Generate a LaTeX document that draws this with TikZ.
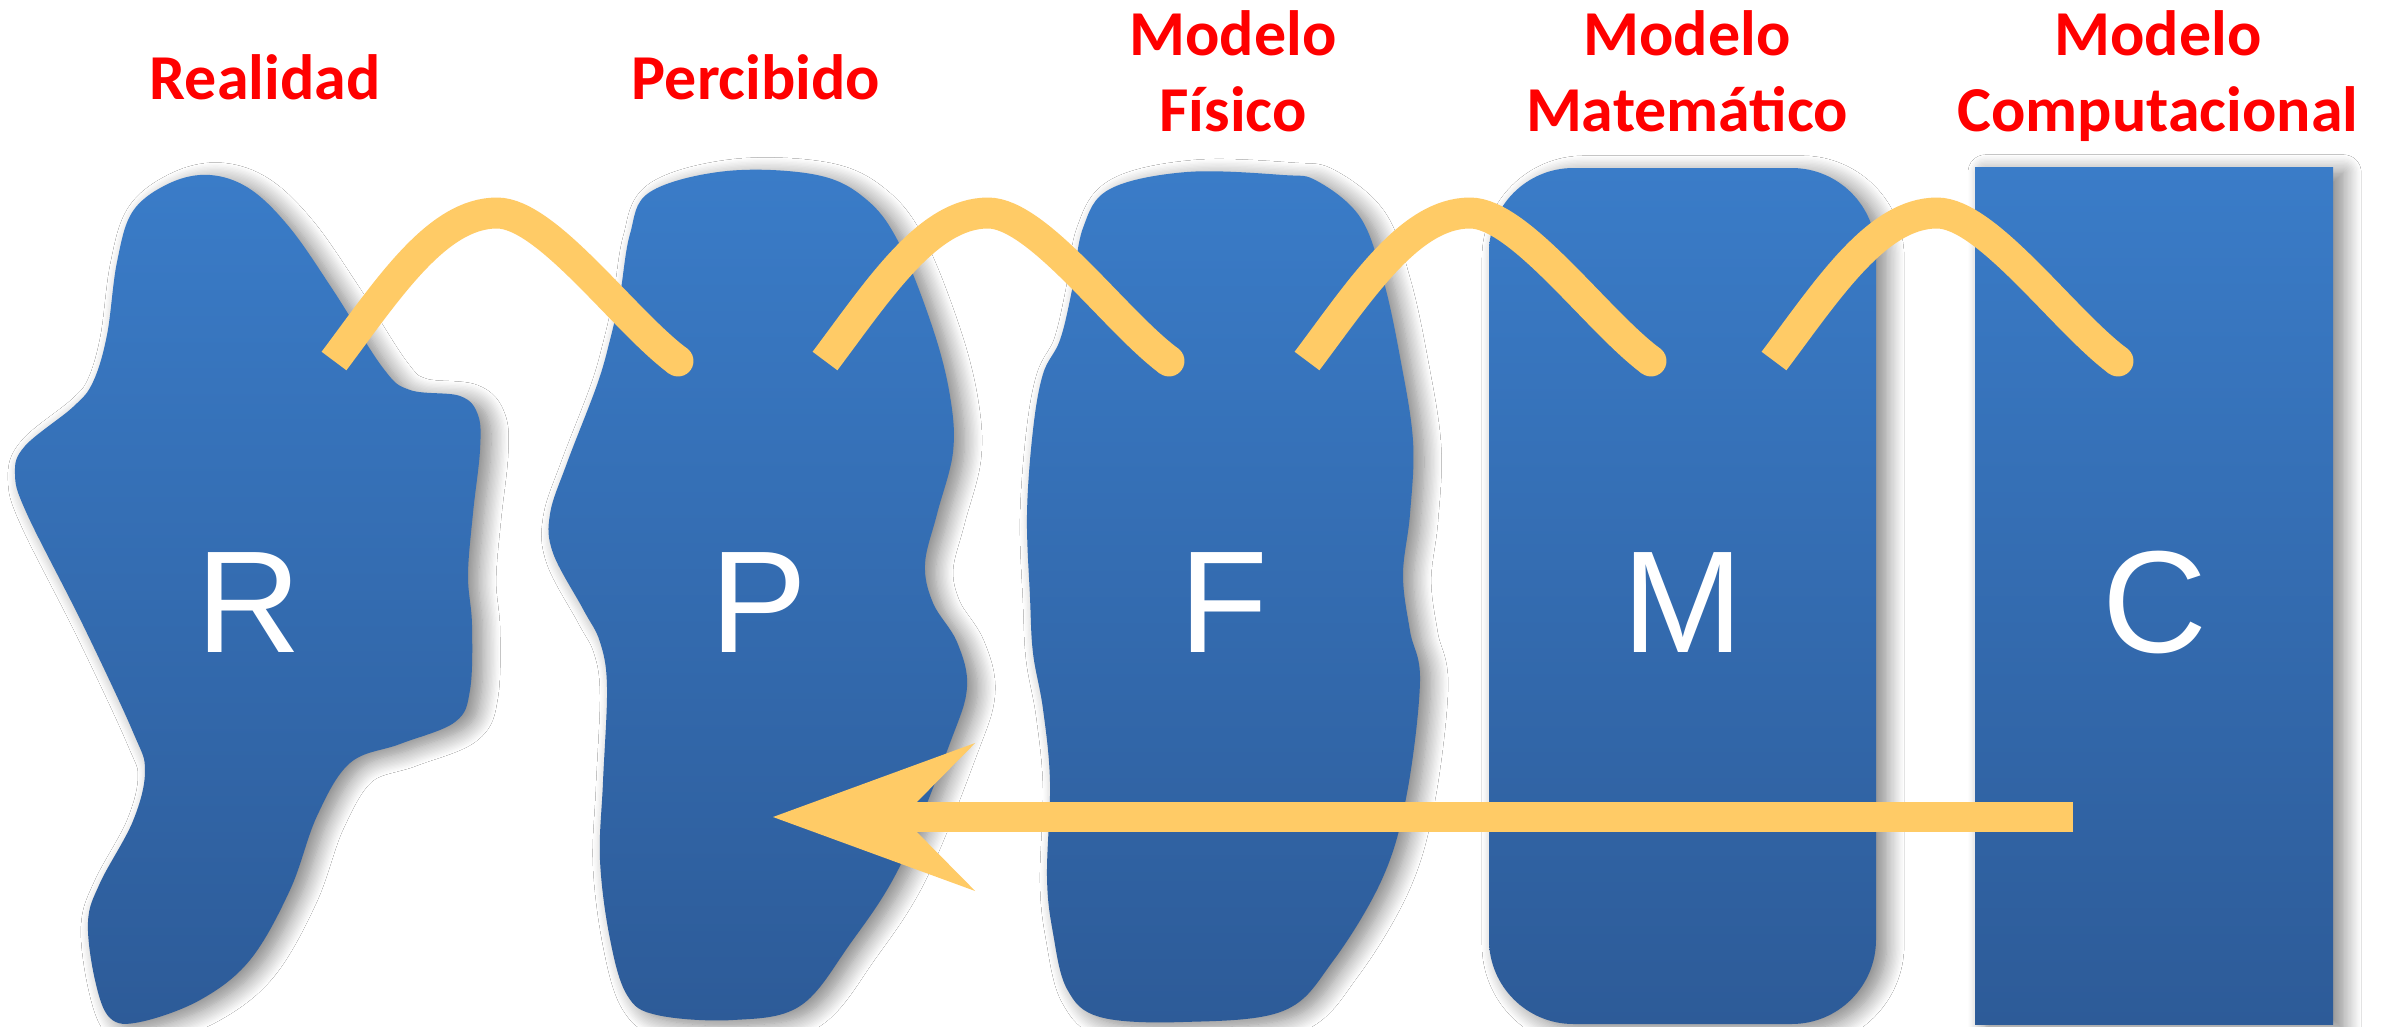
\documentclass[tikz,border=0pt]{standalone}
\usepackage{fontspec}
\setmainfont{Liberation Sans}
\newfontfamily\lblfont{Carlito}
\usetikzlibrary{arrows.meta,shadows.blur}
\definecolor{blueTop}{RGB}{58,124,200}
\definecolor{blueBot}{RGB}{45,91,152}
\definecolor{gold}{RGB}{255,203,102}
\begin{document}
\begin{tikzpicture}[x=0.01cm,y=-0.01cm,
  blob/.style={top color=blueTop, bottom color=blueBot, draw=none,
    blur shadow={shadow xshift=3pt, shadow yshift=-1.5pt, shadow blur radius=5pt, shadow opacity=50, shadow blur steps=14}},
  letter/.style={text=white, font=\fontsize{41.3}{48}\selectfont, anchor=base, inner sep=0pt},
  lbl/.style={text=red, font=\lblfont\bfseries\fontsize{18.2}{21.6}\selectfont, align=center, anchor=base, inner sep=0pt},
  wave/.style={draw=gold, line width=8.8pt, line cap=butt},
  wavetip/.style={fill=gold, draw=none},
  bigarrow/.style={draw=gold, line width=8.6pt, -{Stealth[length=57.5pt,width=42.1pt,inset=20.8pt,line width=0pt]}}
]
\useasboundingbox (0,0) rectangle (2387,1027);
\fill[white] (0,0) rectangle (2387,1027);

% shapes
\path[blob] plot[smooth cycle, tension=0.6] coordinates {
 (210,175) (250,189) (290,228) (333,290) (383,368) (410,390) (460,396) (478,415) (480,450)
 (473,513) (468,575) (472,625) (470,690) (455,722) (400,744) (350,763) (317,816) (290,890)
 (250,960) (200,1000) (140,1022) (110,1018) (95,980) (88,922) (100,883) (133,821) (145,771)
 (133,732) (83,625) (27,514) (15,474) (25,446) (73,407) (93,382) (107,335) (117,262) (133,211) (170,183)};
\path[blob] plot[smooth cycle, tension=0.6] coordinates {
 (727,171) (817,175) (867,200) (900,245) (933,329) (950,396) (953,452) (937,514) (925,564)
 (933,603) (957,642) (967,687) (950,743) (900,866) (850,944) (800,1006) (733,1020) (657,1015)
 (627,995) (610,939) (600,860) (603,782) (607,687) (600,642) (583,609) (553,553) (550,514)
 (567,463) (597,385) (610,340) (620,295) (630,234) (650,192)};
\path[blob] plot[smooth cycle, tension=0.6] coordinates {
 (1187,172) (1283,175) (1317,181) (1360,217) (1383,279) (1400,357) (1413,441) (1410,514)
 (1403,575) (1410,631) (1420,681) (1407,793) (1383,877) (1333,961) (1283,1011) (1183,1022)
 (1100,1017) (1067,989) (1053,933) (1047,877) (1050,782) (1043,709) (1033,653) (1030,597)
 (1027,514) (1033,430) (1043,374) (1060,340) (1072,290) (1083,228) (1110,189)};
\path[blob, rounded corners=24pt] (1489,168) rectangle (1876,1024);
\path[blob] (1975,167) rectangle (2333,1024);

% letters
\node[letter] (R) at (249,652) {R};
\node[letter] (P) at (759,652) {P};
\node[letter] (F) at (1224,652) {F};
\node[letter] (M) at (1683,652) {M};
\node[letter] (C) at (2155,652) {C};

% labels
\node[lbl] (lR) at (265,100) {Realidad};
\node[lbl] (lP) at (756,100) {Percibido};
\node[lbl] (lF) at (1233,131) {Modelo\\Físico};
\node[lbl] (lM) at (1687,131) {Modelo\\Matemático};
\node[lbl] (lC) at (2158,131) {Modelo\\Computacional};

% wave connectors
\coordinate (a1s) at (334,361); \coordinate (a1p) at (497,213); \coordinate (a1e) at (678,361);
\coordinate (a2s) at (825,361); \coordinate (a2p) at (988,213); \coordinate (a2e) at (1169,361);
\coordinate (a3s) at (1307,361); \coordinate (a3p) at (1470,213); \coordinate (a3e) at (1651,361);
\coordinate (a4s) at (1774,361); \coordinate (a4p) at (1937,213); \coordinate (a4e) at (2118,361);
\foreach \i in {1,2,3,4}{
  \draw[wave] (a\i s) .. controls +(54,-72) and +(-60,0) .. (a\i p)
                      .. controls +(50,0) and +(-54,-40) .. (a\i e);
  \fill[wavetip] (a\i e) circle[radius=4.4pt];
}

% return arrow
\coordinate (arrs) at (2073,817);
\coordinate (arrt) at (773,817);
\draw[bigarrow] (arrs) -- (arrt);
\end{tikzpicture}
\end{document}
